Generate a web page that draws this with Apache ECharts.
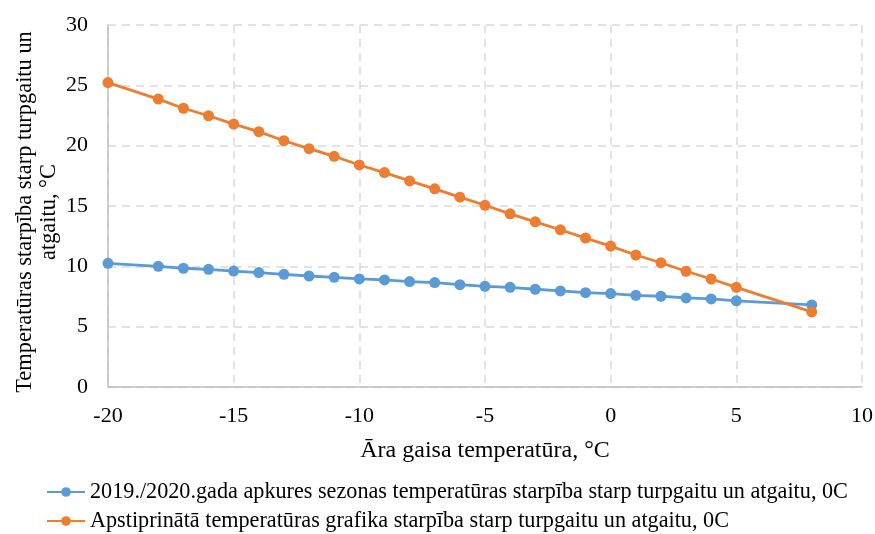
<!DOCTYPE html>
<html><head><meta charset="utf-8">
<script src="https://cdn.jsdelivr.net/npm/echarts@6/dist/echarts.min.js"></script>
<style>html,body{margin:0;padding:0;background:#fff}#c{width:875px;height:534px}</style>
</head><body><div id="c"></div>
<script>
const xValues = [-20,-18,-17,-16,-15,-14,-13,-12,-11,-10,-9,-8,-7,-6,-5,-4,-3,-2,-1,0,1,2,3,4,5,8];
const seriesBlue = [10.25,10.0,9.84,9.75,9.61,9.48,9.34,9.2,9.09,8.96,8.87,8.74,8.65,8.48,8.34,8.26,8.1,7.96,7.82,7.74,7.6,7.52,7.38,7.3,7.14,6.8];
const seriesOrange = [25.23,23.86,23.1,22.48,21.79,21.16,20.41,19.75,19.12,18.4,17.77,17.08,16.42,15.73,15.06,14.35,13.69,13.03,12.34,11.68,10.94,10.3,9.59,8.95,8.26,6.22];
const nameBlue = '2019./2020.gada apkures sezonas temperatūras starpība starp turpgaitu un atgaitu, 0C';
const nameOrange = 'Apstiprinātā temperatūras grafika starpība starp turpgaitu un atgaitu, 0C';
const xTitle = 'Āra gaisa temperatūra, °C';
const yTitle = 'Temperatūras starpība starp turpgaitu un\natgaitu, °C';

const font = 'Liberation Serif, Times New Roman, serif';
const chart = echarts.init(document.getElementById('c'));
const pair = v => xValues.map((x,i)=>[x,v[i]]);
const legendBase = {
  left:46, itemWidth:38, itemHeight:12, itemGap:0, padding:0,
  textStyle:{fontFamily:font,fontSize:22.2,color:'#000'}
};
chart.setOption({
  animation:false,
  textStyle:{fontFamily:font},
  grid:{left:108,right:13,top:25,bottom:147,containLabel:false,outerBoundsMode:'none'},
  legend:[
    Object.assign({top:481,data:[nameBlue]},legendBase),
    Object.assign({top:510,data:[nameOrange]},legendBase)
  ],
  xAxis:{
    type:'value', min:-20, max:10, interval:5,
    name:xTitle, nameLocation:'middle', nameGap:52, nameMoveOverlap:false,
    nameTextStyle:{fontFamily:font,fontSize:24,color:'#000'},
    axisLine:{show:true,onZero:false,lineStyle:{color:'#bfbfbf',width:1.5}},
    axisTick:{show:false},
    axisLabel:{fontFamily:font,fontSize:22,color:'#000',margin:18},
    splitLine:{show:true,lineStyle:{color:'#d9d9d9',type:[8,6],width:1.5}}
  },
  yAxis:{
    type:'value', min:0, max:30, interval:5,
    name:yTitle, nameLocation:'middle', nameGap:47, nameMoveOverlap:false,
    nameTextStyle:{fontFamily:font,fontSize:22.4,color:'#000',lineHeight:24,padding:[0,12,0,0]},
    axisLine:{show:true,onZero:false,lineStyle:{color:'#bfbfbf',width:1.5}},
    axisTick:{show:false},
    axisLabel:{fontFamily:font,fontSize:22,color:'#000',margin:20},
    splitLine:{show:true,lineStyle:{color:'#d9d9d9',type:[8,6],width:1.5}}
  },
  series:[
    {name:nameBlue,type:'line',data:pair(seriesBlue),symbol:'circle',symbolSize:11,
     lineStyle:{color:'#5B9BD5',width:2.8},itemStyle:{color:'#5B9BD5'}},
    {name:nameOrange,type:'line',data:pair(seriesOrange),symbol:'circle',symbolSize:11,
     lineStyle:{color:'#ED7D31',width:2.8},itemStyle:{color:'#ED7D31'}}
  ]
});
</script></body></html>
